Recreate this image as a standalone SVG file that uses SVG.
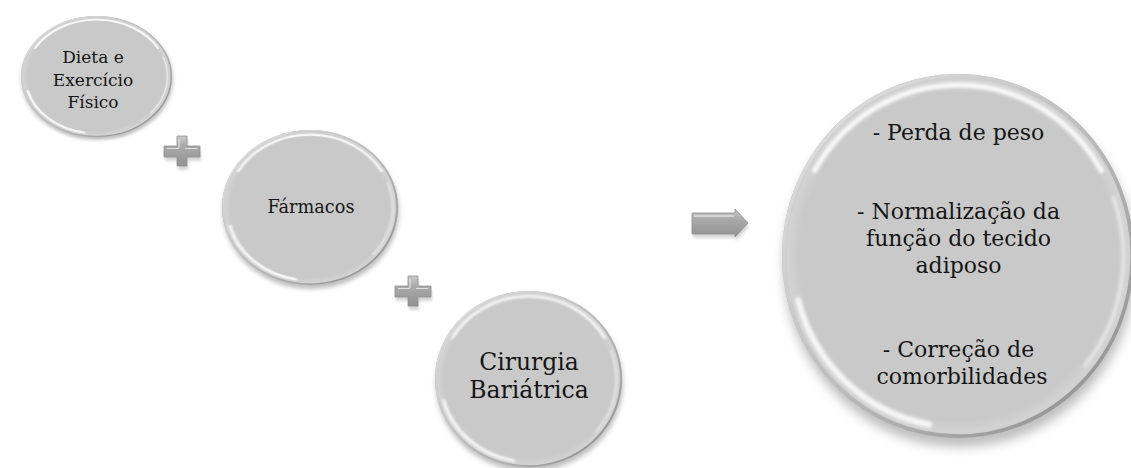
<svg xmlns="http://www.w3.org/2000/svg" xmlns:xlink="http://www.w3.org/1999/xlink" width="1131" height="468" viewBox="0 0 1131 468">
  <defs>
    <style>
      .lbl { font-family: "DejaVu Serif", "Liberation Serif", serif; fill: #151515; text-anchor: middle; }
      .hl { fill: none; stroke: #ffffff; stroke-linecap: round; }
    </style>
    <filter id="blurS" x="-20%" y="-20%" width="140%" height="140%"><feGaussianBlur stdDeviation="3"/></filter>
    <filter id="blurH" x="-20%" y="-20%" width="140%" height="140%"><feGaussianBlur stdDeviation="1"/></filter>
    <filter id="blurP" x="-30%" y="-30%" width="160%" height="160%"><feGaussianBlur stdDeviation="1.5"/></filter>
    <linearGradient id="rim" x1="0" y1="0" x2="1" y2="1">
      <stop offset="0" stop-color="#e6e6e6"/>
      <stop offset="0.5" stop-color="#bdbdbd"/>
      <stop offset="1" stop-color="#8a8a8a"/>
    </linearGradient>
    <radialGradient id="orbFill" cx="0.5" cy="0.5" r="0.5">
      <stop offset="0" stop-color="#c9c9c9"/>
      <stop offset="0.9" stop-color="#c9c9c9"/>
      <stop offset="0.97" stop-color="#d3d3d3"/>
      <stop offset="1" stop-color="#bcbcbc"/>
    </radialGradient>
    <linearGradient id="metal" x1="0" y1="0" x2="0" y2="1">
      <stop offset="0" stop-color="#cacaca"/>
      <stop offset="0.35" stop-color="#aaaaaa"/>
      <stop offset="1" stop-color="#929292"/>
    </linearGradient>
    <symbol id="orb" viewBox="-100 -100 200 200" preserveAspectRatio="none" overflow="visible">
      <circle cx="1" cy="5" r="100" fill="#6f6f6f" opacity="0.45" filter="url(#blurS)"/>
      <circle r="100" fill="url(#orbFill)"/>
      <circle r="99" fill="none" stroke="url(#rim)" stroke-width="2"/>
      <path class="hl" d="M-81.4,-47 A94,94 0 0 1 81.4,-47" stroke-width="3" opacity="0.85" filter="url(#blurH)"/>
      <path class="hl" d="M-16.3,92.6 A94,94 0 0 1 -90.8,24.3" stroke-width="3.5" opacity="0.8" filter="url(#blurH)"/>
      <path class="hl" d="M88.3,-32.1 A94,94 0 0 1 72,60.4" stroke-width="2" opacity="0.5" filter="url(#blurH)"/>
    </symbol>
    <symbol id="plus" viewBox="-18 -15 36 30" overflow="visible">
      <path d="M-5,-15 H5 V-5 H18 V6 H5 V15 H-5 V6 H-18 V-5 H-5 Z" fill="#777" opacity="0.3" transform="translate(1,4)" filter="url(#blurP)"/>
      <path d="M-5,-15 H5 V-5 H18 V6 H5 V15 H-5 V6 H-18 V-5 H-5 Z" fill="url(#metal)" stroke="#909090" stroke-width="0.8"/>
      <path d="M-3,-12 V-3 M-15,-2.5 H-3 M3,-2.5 H15" fill="none" stroke="#e6e6e6" stroke-width="1.2" opacity="0.9"/>
    </symbol>
  </defs>

  <g id="connectors">
    <use id="plus1" href="#plus" xlink:href="#plus" x="164" y="136" width="36" height="30"/>
    <use id="plus2" href="#plus" xlink:href="#plus" x="395" y="276" width="36" height="30"/>
    <g id="arrow">
      <path d="M692,213 H735 V209 L748,223 L735,237 V234 H692 Z" fill="#777" opacity="0.3" transform="translate(1,4)" filter="url(#blurP)"/>
      <path d="M692,213 H735 V209 L748,223 L735,237 V234 H692 Z" fill="url(#metal)" stroke="#909090" stroke-width="0.8"/>
      <path d="M694,216 H734" stroke="#e4e4e4" stroke-width="1.5" opacity="0.9"/>
    </g>
  </g>

  <g id="node-dieta">
    <use href="#orb" xlink:href="#orb" x="21" y="16" width="151" height="121"/>
    <text class="lbl" font-size="17"><tspan x="93" y="63">Dieta e</tspan><tspan x="93" y="85.5">Exercício</tspan><tspan x="93" y="108">Físico</tspan></text>
  </g>

  <g id="node-farmacos">
    <use href="#orb" xlink:href="#orb" x="222" y="130" width="176" height="155"/>
    <text class="lbl" font-size="17.7" x="311" y="213">Fármacos</text>
  </g>

  <g id="node-cirurgia">
    <use href="#orb" xlink:href="#orb" x="435" y="291" width="187" height="176"/>
    <text class="lbl" font-size="23.5"><tspan x="529" y="370">Cirurgia</tspan><tspan x="529" y="398">Bariátrica</tspan></text>
  </g>

  <g id="node-resultados">
    <use href="#orb" xlink:href="#orb" x="782" y="74" width="352" height="364"/>
    <text class="lbl" font-size="22">
      <tspan x="962" y="140">- Perda de peso</tspan>
      <tspan x="962" y="219">- Normalização da</tspan>
      <tspan x="962" y="246">função do tecido</tspan>
      <tspan x="962" y="273">adiposo</tspan>
      <tspan x="962" y="357">- Correção de</tspan>
      <tspan x="962" y="384">comorbilidades</tspan>
    </text>
  </g>
</svg>
